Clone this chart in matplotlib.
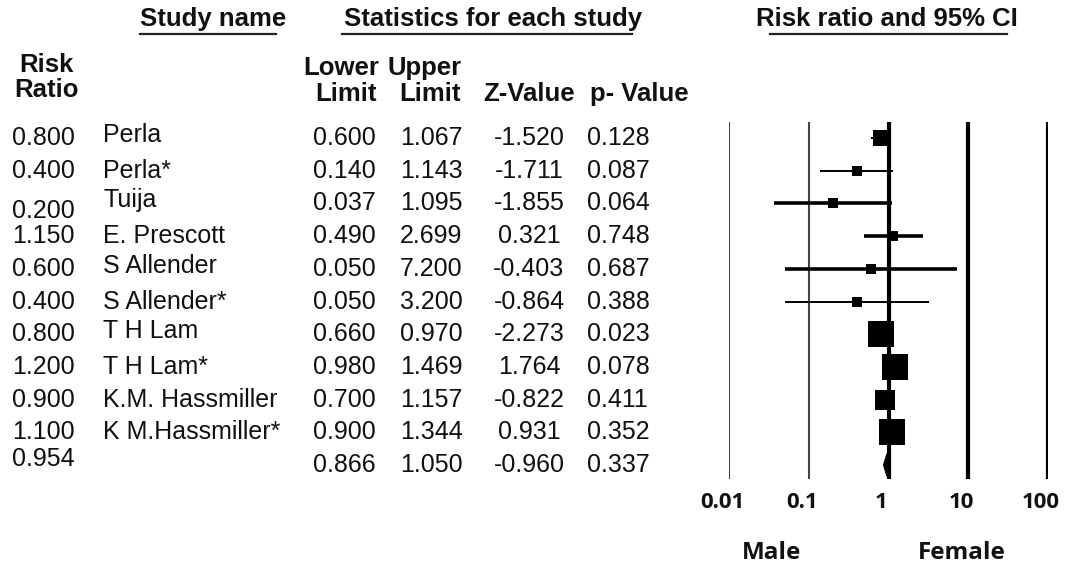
import matplotlib
matplotlib.use("Agg")
import matplotlib.pyplot as plt
import numpy as np
from matplotlib.patches import Polygon

# ---------------- data ----------------
studies = ["Perla", "Perla*", "Tuija", "E. Prescott", "S Allender", "S Allender*",
           "T H Lam", "T H Lam*", "K.M. Hassmiller", "K M.Hassmiller*"]
risk_ratio = [0.800, 0.400, 0.200, 1.150, 0.600, 0.400, 0.800, 1.200, 0.900, 1.100]
lower_limit = [0.600, 0.140, 0.037, 0.490, 0.050, 0.050, 0.660, 0.980, 0.700, 0.900]
upper_limit = [1.067, 1.143, 1.095, 2.699, 7.200, 3.200, 0.970, 1.469, 1.157, 1.344]
z_value = [-1.520, -1.711, -1.855, 0.321, -0.403, -0.864, -2.273, 1.764, -0.822, 0.931]
p_value = [0.128, 0.087, 0.064, 0.748, 0.687, 0.388, 0.023, 0.078, 0.411, 0.352]
rel_weight = [8.6, 3.1, 3.8, 3.8, 3.1, 3.1, 21.9, 20.1, 12.3, 20.1]

summary_rr = 0.954
summary_lower = 0.866
summary_upper = 1.050
summary_z = -0.960
summary_p = 0.337

axis_ticks = [0.01, 0.1, 1, 10, 100]
axis_tick_labels = ["0.01", "0.1", "1", "10", "100"]

# ---------------- layout ----------------
W, H = 1067, 569
DPI = 100
fig = plt.figure(figsize=(W / DPI, H / DPI), dpi=DPI)
fig.patch.set_facecolor("white")

tx = fig.add_axes([0, 0, 1, 1])
tx.set_xlim(0, W)
tx.set_ylim(H, 0)
tx.axis("off")

row_y0 = 138.0
row_dy = 32.7
n = len(studies)

def row_y(i):
    return row_y0 + i * row_dy

FAM = ["Liberation Sans", "DejaVu Sans"]
body = dict(family=FAM, fontsize=18, color="#111111")
bold = dict(family=FAM, fontsize=18.5, fontweight="bold", color="#111111")

# headers
tx.text(213, 19, "Study name", ha="center", va="center", **bold)
tx.plot([140, 276], [34, 34], color="#222222", lw=1.6)
tx.text(493, 19, "Statistics for each study", ha="center", va="center", **bold)
tx.plot([342, 632], [34, 34], color="#222222", lw=1.6)
tx.text(887, 19, "Risk ratio and 95% CI", ha="center", va="center", **bold)
tx.plot([770, 1007], [34, 34], color="#222222", lw=1.6)

tx.text(46, 65, "Risk", ha="center", va="center", **bold)
tx.text(46, 90, "Ratio", ha="center", va="center", **bold)
tx.text(341, 68, "Lower", ha="center", va="center", **bold)
tx.text(346, 94, "Limit", ha="center", va="center", **bold)
tx.text(425, 68, "Upper", ha="center", va="center", **bold)
tx.text(430, 94, "Limit", ha="center", va="center", **bold)
tx.text(529, 94, "Z-Value", ha="center", va="center", **bold)
tx.text(639, 94, "p- Value", ha="center", va="center", **bold)

# rows
for i in range(n):
    y = row_y(i)
    ry = y + (8 if i == 2 else 0)
    ny = y - (3 if i in (0, 2, 4, 6) else 0)
    tx.text(12, ry, f"{risk_ratio[i]:.3f}", ha="left", va="center", **body)
    tx.text(103, ny, studies[i], ha="left", va="center", **body)
    tx.text(313, y, f"{lower_limit[i]:.3f}", ha="left", va="center", **body)
    tx.text(400, y, f"{upper_limit[i]:.3f}", ha="left", va="center", **body)
    tx.text(529, y, f"{z_value[i]:.3f}", ha="center", va="center", **body)
    tx.text(587, y, f"{p_value[i]:.3f}", ha="left", va="center", **body)

ys = row_y(n)
tx.text(12, ys - 6, f"{summary_rr:.3f}", ha="left", va="center", **body)
tx.text(313, ys, f"{summary_lower:.3f}", ha="left", va="center", **body)
tx.text(400, ys, f"{summary_upper:.3f}", ha="left", va="center", **body)
tx.text(529, ys, f"{summary_z:.3f}", ha="center", va="center", **body)
tx.text(587, ys, f"{summary_p:.3f}", ha="left", va="center", **body)

# ---------------- forest plot ----------------
x_left, x_right = 729, 1048
y_top, y_bot = 122, 479
ax = fig.add_axes([x_left / W, 1 - y_bot / H, (x_right - x_left) / W, (y_bot - y_top) / H])
ax.set_xscale("log")
ax.set_xlim(0.01, 100)
ax.set_ylim((y_bot - row_y0) / row_dy, (y_top - row_y0) / row_dy)
ax.axis("off")
ax.patch.set_alpha(0)

line_colors = ["#444444", "#444444", "black", "black", "black"]
line_widths = [1.5, 1.5, 3.0, 3.0, 3.0]
for t, c, lw in zip(axis_ticks, line_colors, line_widths):
    ax.axvline(t, color=c, lw=lw, zorder=1)

ci_widths = [1.4, 1.4, 2.6, 2.6, 2.6, 1.4, 1.4, 1.4, 1.4, 1.4]
side_k = 5.6  # px per sqrt(weight)
for i in range(n):
    ax.plot([lower_limit[i], upper_limit[i]], [i, i], color="black", lw=ci_widths[i],
            solid_capstyle="butt", zorder=2)
    side_px = side_k * np.sqrt(rel_weight[i])
    side_pt = side_px * 72 / DPI
    ax.plot([risk_ratio[i]], [i], marker="s", markersize=side_pt, color="black",
            markeredgewidth=0, zorder=3)

h = 0.34
diamond = Polygon([[summary_lower, n], [summary_rr, n - h], [summary_upper, n], [summary_rr, n + h]],
                  closed=True, facecolor="black", edgecolor="black", lw=0.8, zorder=3)
ax.add_patch(diamond)

tickfont = dict(family=["Open Sans", "DejaVu Sans"], fontsize=16, fontweight="bold", color="#111111")
sidefont = dict(family=["Open Sans", "DejaVu Sans"], fontsize=17.5, fontweight="bold", color="#111111")
for t, lab in zip(axis_ticks, axis_tick_labels):
    xpix = x_left + (np.log10(t) + 2) / 4 * (x_right - x_left)
    tx.text(xpix - 7, 502, lab, ha="center", va="center", **tickfont)
tx.text(771, 553, "Male", ha="center", va="center", **sidefont)
tx.text(962, 553, "Female", ha="center", va="center", **sidefont)

fig.savefig("out.png", dpi=DPI)
